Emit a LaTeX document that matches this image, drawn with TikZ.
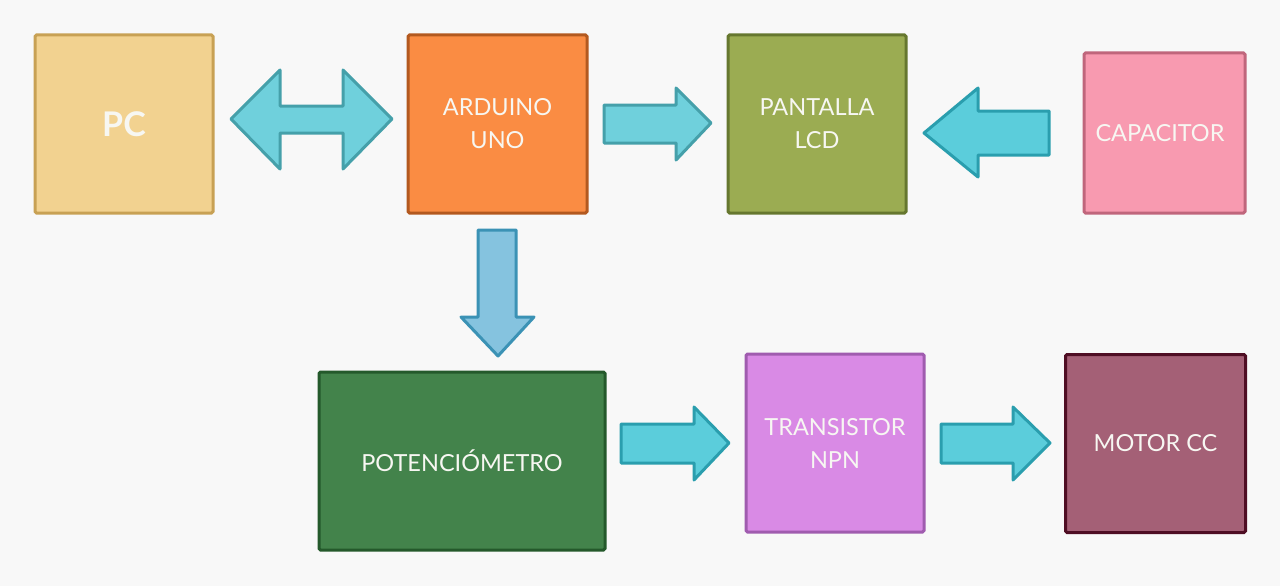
\documentclass[tikz,border=0pt]{standalone}
\usepackage{fontspec}
\setmainfont{Lato}
\definecolor{bg}{HTML}{F8F8F8}
\definecolor{pcf}{HTML}{F2D290}\definecolor{pcd}{HTML}{C8A154}
\definecolor{arf}{HTML}{FA8C43}\definecolor{ard}{HTML}{B3591F}
\definecolor{lcf}{HTML}{9BAC52}\definecolor{lcd}{HTML}{66772F}
\definecolor{caf}{HTML}{F89AB0}\definecolor{cad}{HTML}{C0667C}
\definecolor{pof}{HTML}{43834B}\definecolor{pod}{HTML}{24592B}
\definecolor{trf}{HTML}{D98AE5}\definecolor{trd}{HTML}{A05CAF}
\definecolor{mof}{HTML}{A46076}\definecolor{mod}{HTML}{4F0E24}
\definecolor{a1f}{HTML}{6FD0DC}\definecolor{a1d}{HTML}{45A0AA}
\definecolor{a2f}{HTML}{5BCDDB}\definecolor{a2d}{HTML}{2A9EAE}
\definecolor{a3f}{HTML}{85C3DF}\definecolor{a3d}{HTML}{3B92B5}
\definecolor{txt}{HTML}{F7F7F2}
\begin{document}
\begin{tikzpicture}[x=1pt,y=-1pt,
  box/.style={draw, line width=3pt, rounded corners=1.5pt, inner sep=0pt,
    text=txt, align=center, font=\fontsize{23.5}{33}\selectfont},
  blk/.style={line width=3pt, line join=round},
  lightarrow/.style={blk, fill=a1f, draw=a1d},
  cyanarrow/.style={blk, fill=a2f, draw=a2d},
  bluearrow/.style={blk, fill=a3f, draw=a3d}]
\useasboundingbox[fill=bg] (0,0) rectangle (1280,586);
\node[box, fill=pcf, draw=pcd, minimum width=178pt, minimum height=178pt,
  font=\fontsize{34}{40}\selectfont\bfseries] (pc) at (124,124) {PC};
\node[box, fill=arf, draw=ard, minimum width=179pt, minimum height=178pt] (ard) at (497.5,124) {ARDUINO\\UNO};
\node[box, fill=lcf, draw=lcd, minimum width=178pt, minimum height=178pt] (lcd) at (817,124) {PANTALLA\\LCD};
\node[box, fill=caf, draw=cad, minimum width=161pt, minimum height=160pt] (cap) at (1164.5,133) {};
\node[text=txt, font=\fontsize{23.5}{33}\selectfont, inner sep=0pt] (captxt) at (1160,133) {CAPACITOR};
\node[box, fill=pof, draw=pod, minimum width=286pt, minimum height=178pt] (pot) at (462,461) {POTENCIÓMETRO};
\node[box, fill=trf, draw=trd, minimum width=178pt, minimum height=178pt] (tra) at (835,443) {TRANSISTOR\\NPN};
\node[box, fill=mof, draw=mod, minimum width=180pt, minimum height=178pt] (mot) at (1155.5,443.5) {MOTOR CC};
% PC <-> ARDUINO
\draw[lightarrow] (231,119) -- (280,70) -- (280,106) -- (343,106) -- (343,70) -- (392,119)
  -- (343,169) -- (343,133) -- (280,133) -- (280,169) -- cycle;
% ARDUINO -> LCD
\draw[lightarrow] (604,105) -- (676,105) -- (676,88) -- (711,123) -- (676,160) -- (676,143) -- (604,143) -- cycle;
% CAPACITOR -> LCD
\draw[cyanarrow] (1049,111) -- (978,111) -- (978,88) -- (924,133) -- (978,177) -- (978,155) -- (1049,155) -- cycle;
% ARDUINO -> POT
\draw[bluearrow] (478,230) -- (516,230) -- (516,317) -- (534,317) -- (498,356) -- (461,317) -- (478,317) -- cycle;
% POT -> TRANSISTOR
\draw[cyanarrow] (621,424) -- (694,424) -- (694,407) -- (729,443) -- (694,480) -- (694,463) -- (621,463) -- cycle;
% TRANSISTOR -> MOTOR
\draw[cyanarrow] (941,424) -- (1013,424) -- (1013,407) -- (1050,443) -- (1013,480) -- (1013,463) -- (941,463) -- cycle;
\end{tikzpicture}
\end{document}
